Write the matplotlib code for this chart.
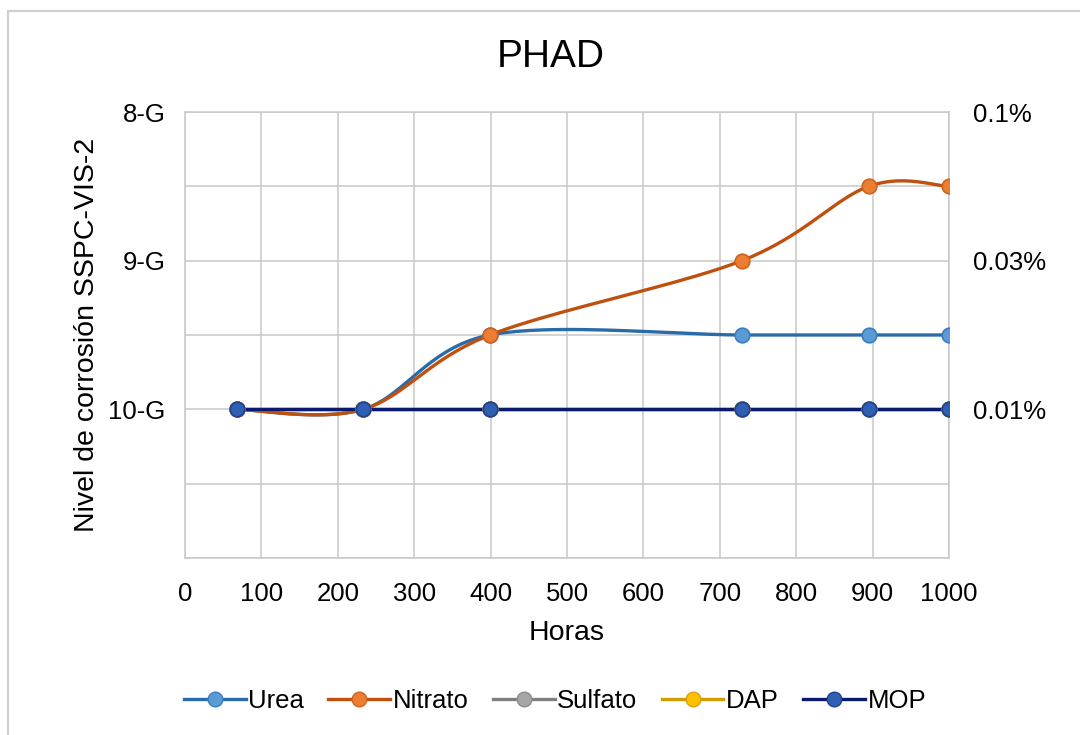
import numpy as np
import matplotlib.pyplot as plt
from matplotlib.patches import Rectangle

plt.rcParams['font.family'] = ['Liberation Sans', 'DejaVu Sans']

horas = [68, 233, 399, 729, 895, 1000]
series = {
    "Urea":    [10, 10, 9.5, 9.5, 9.5, 9.5],
    "Nitrato": [10, 10, 9.5, 9.0, 8.5, 8.5],
    "Sulfato": [10, 10, 10, 10, 10, 10],
    "DAP":     [10, 10, 10, 10, 10, 10],
    "MOP":     [10, 10, 10, 10, 10, 10],
}
niveles = [8, 8.5, 9, 9.5, 10, 10.5, 11]
etiquetas_izq = ["8-G", "", "9-G", "", "10-G", "", ""]
etiquetas_der = ["0.1%", "", "0.03%", "", "0.01%", "", ""]

estilos = {
    "Urea":    ("#2A6BAA", "#5B9BD5", "#3A7CC0"),
    "Nitrato": ("#C0500E", "#ED7D31", "#CC6320"),
    "Sulfato": ("#7F7F7F", "#A5A5A5", "#8C8C8C"),
    "DAP":     ("#D09C00", "#FFC000", "#D9A300"),
    "MOP":     ("#0A1A6E", "#2F5FB3", "#1E3F8A"),
}


def suavizar(x, y, n=40):
    # curva tipo Excel: bezier con puntos de control de Catmull-Rom
    p = np.column_stack([x, y]).astype(float)
    pts = []
    for i in range(len(p) - 1):
        p0 = p[i - 1] if i > 0 else p[i]
        p1, p2 = p[i], p[i + 1]
        p3 = p[i + 2] if i + 2 < len(p) else p[i + 1]
        c1 = p1 + (p2 - p0) / 6
        c2 = p2 - (p3 - p1) / 6
        t = np.linspace(0, 1, n)[:, None]
        seg = ((1 - t) ** 3) * p1 + 3 * ((1 - t) ** 2) * t * c1 + 3 * (1 - t) * t ** 2 * c2 + t ** 3 * p2
        pts.append(seg if i == 0 else seg[1:])
    pts = np.vstack(pts)
    return pts[:, 0], pts[:, 1]


fig = plt.figure(figsize=(10.8, 7.35), dpi=100)
ax = fig.add_axes([185 / 1080, 1 - 558 / 735, 764 / 1080, 446 / 735])

fig.add_artist(Rectangle((8 / 1080, -0.1), 1.2, 1 - 11 / 735 + 0.1, transform=fig.transFigure,
                         fill=False, edgecolor="#D0D0D0", linewidth=1.6))

for nombre, valores in series.items():
    linea, relleno, borde = estilos[nombre]
    xs, ys = suavizar(horas, valores)
    ax.plot(xs, ys, color=linea, linewidth=2.4, solid_capstyle="round", zorder=3)
    ax.plot(horas, valores, linestyle="none", marker="o", markersize=10.5,
            markerfacecolor=relleno, markeredgecolor=borde, markeredgewidth=1.2, zorder=4)
    # entrada de leyenda
    ax.plot([], [], color=linea, linewidth=2.4, marker="o", markersize=10.5,
            markerfacecolor=relleno, markeredgecolor=borde, label=nombre)

ax.set_xlim(0, 1000)
ax.set_ylim(11, 8)
ax.set_xticks(range(0, 1001, 100))
ax.set_yticks(niveles)
ax.set_yticklabels(etiquetas_izq)
ax.grid(True, color="#C8C8C8", linewidth=1.1)
ax.set_axisbelow(True)
for s in ax.spines.values():
    s.set_color("#C8C8C8")
    s.set_linewidth(1.1)
ax.tick_params(length=0, labelsize=18.5, pad=14)
ax.tick_params(axis="x", pad=17)

ax2 = ax.twinx()
ax2.set_ylim(11, 8)
ax2.set_yticks(niveles)
ax2.set_yticklabels(etiquetas_der)
ax2.tick_params(length=0, labelsize=18.5, pad=17)
for s in ax2.spines.values():
    s.set_visible(False)

fig.text(551 / 1080, 1 - 57 / 735, "PHAD", fontsize=28, ha="center", va="center")
ax.set_xlabel("Horas", fontsize=20.5, labelpad=10)
ax.set_ylabel("Nivel de corrosión SSPC-VIS-2", fontsize=20.5, labelpad=6)

fig.legend(*ax.get_legend_handles_labels(), loc="center", bbox_to_anchor=(555 / 1080, 1 - 701 / 735),
           ncol=5, frameon=False, fontsize=18.5, handlelength=2.4, handletextpad=0.1, columnspacing=0.95)

fig.savefig("out.png", dpi=100)
